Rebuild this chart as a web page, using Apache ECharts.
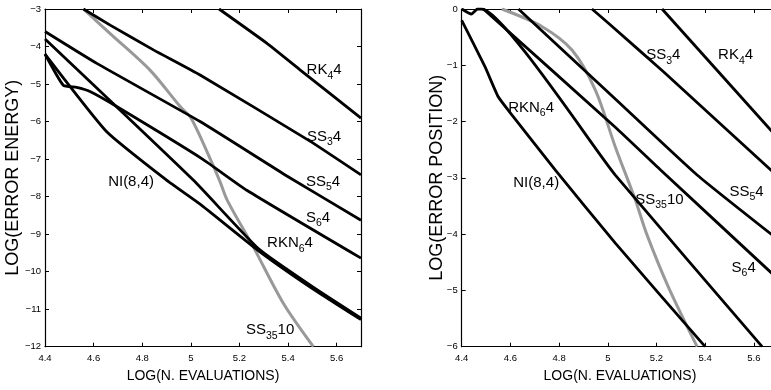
<!DOCTYPE html>
<html><head><meta charset="utf-8">
<script src="https://cdn.jsdelivr.net/npm/echarts@6/dist/echarts.min.js"></script>
<style>html,body{margin:0;padding:0;background:#fff}#c{width:771px;height:390px}</style>
</head><body><div id="c"></div>
<script>
// ---- axes ----
const xMin = 4.4, xMax = 5.7, xStep = 0.2;
const energyYMin = -12, energyYMax = -3;
const posYMin = -6, posYMax = 0;
const xAxisTitle = 'LOG(N. EVALUATIONS)';
const energyTitle = 'LOG(ERROR ENERGY)';
const posTitle = 'LOG(ERROR POSITION)';

// ---- left panel: log(error energy) ----
const energyRK4  = [[5.116,-3],[5.312,-3.91],[5.449,-4.62],[5.7,-5.91]];
const energySS3  = [[4.558,-3],[4.668,-3.43],[4.846,-4.09],[5.038,-4.76],[5.49,-6.52],[5.7,-7.42]];
const energySS5  = [[4.4,-3.6],[4.613,-4.45],[5.038,-6.0],[5.395,-7.45],[5.7,-8.63]];
const energyS6   = [[4.4,-4.2],[4.475,-5.03],[4.53,-5.09],[4.585,-5.2],[4.695,-5.6],[5.048,-7.0],[5.23,-7.83],[5.7,-9.64]];
const energyRKN6 = [[4.4,-3.8],[5.01,-7.56],[5.28,-9.4],[5.5,-10.4],[5.7,-11.24]];
const energyNI   = [[4.4,-4.2],[4.654,-6.27],[4.9,-7.56],[5.038,-8.2],[5.28,-9.45],[5.5,-10.45],[5.7,-11.28]];
const energySS35 = [[4.558,-3],[4.667,-3.65],[4.832,-4.63],[4.956,-5.6],[5.0,-5.9],[5.08,-7.0],[5.12,-7.6],[5.15,-8.1],[5.257,-9.34],[5.381,-10.85],[5.504,-12]];

// ---- right panel: log(error position) ----
const posRK4  = [[5.223,0],[5.7,-2.3]];
const posSS3  = [[4.935,0],[5.01,-0.28],[5.23,-1.12],[5.7,-2.98]];
const posSS5  = [[4.633,0],[5.031,-1.6],[5.367,-2.95],[5.7,-4.1]];
const posS6   = [[4.489,0],[5.031,-2.1],[5.217,-2.86],[5.7,-4.8]];
const posRKN6 = [[4.4,0],[4.44,-0.09],[4.465,0],[4.482,0],[5.031,-2.95],[5.634,-6]];
const posNI   = [[4.4,-0.2],[4.496,-1.03],[4.55,-1.56],[4.606,-1.88],[4.784,-2.86],[5.031,-4.16],[5.40,-6]];
const posSS35 = [[4.565,0],[4.729,-0.31],[4.853,-0.73],[4.949,-1.44],[5.031,-2.45],[5.113,-3.39],[5.16,-4.0],[5.25,-4.95],[5.367,-6]];

// ---- curve labels: [panel, x, y, main, sub, tail] ----
const curveLabels = [
  [0, 5.548, -4.63, 'RK', '4', '4'],
  [0, 5.548, -6.41, 'SS', '3', '4'],
  [0, 5.544, -7.61, 'SS', '5', '4'],
  [0, 4.754, -7.61, 'NI(8,4)', '', ''],
  [0, 5.523, -8.57, 'S', '6', '4'],
  [0, 5.408, -9.24, 'RKN', '6', '4'],
  [0, 5.326, -11.56, 'SS', '35', '10'],
  [1, 5.228, -0.82, 'SS', '3', '4'],
  [1, 5.525, -0.82, 'RK', '4', '4'],
  [1, 4.685, -1.76, 'RKN', '6', '4'],
  [1, 4.706, -3.09, 'NI(8,4)', '', ''],
  [1, 5.212, -3.39, 'SS', '35', '10'],
  [1, 5.570, -3.25, 'SS', '5', '4'],
  [1, 5.558, -4.60, 'S', '6', '4']
];

const FONT = "'Liberation Sans', Arial, sans-serif";
const chart = echarts.init(document.getElementById('c'), null, {renderer: 'canvas'});

function xAxes(g) {
  const base = {gridIndex: g, type: 'value', min: xMin, max: xMax, interval: xStep,
    splitLine: {show: false},
    axisLine: {onZero: false, lineStyle: {color: '#000', width: 1.2}},
    axisTick: {inside: true, length: 4, lineStyle: {color: '#000', width: 1}}};
  return [
    Object.assign({}, base, {position: 'bottom',
      axisLabel: {color: '#000', fontSize: 9.5, fontFamily: FONT, margin: 7,
        showMaxLabel: false,
        formatter: v => String(+v.toFixed(1))},
      name: xAxisTitle, nameLocation: 'middle', nameGap: 22,
      nameTextStyle: {color: '#000', fontSize: 14, fontFamily: FONT}}),
    Object.assign({}, base, {position: 'top', axisLabel: {show: false}})
  ];
}
function yAxes(g, mn, mx, title, gap) {
  const base = {gridIndex: g, type: 'value', min: mn, max: mx, interval: 1,
    splitLine: {show: false},
    axisLine: {onZero: false, lineStyle: {color: '#000', width: 1.2}},
    axisTick: {inside: true, length: 4, lineStyle: {color: '#000', width: 1}}};
  return [
    Object.assign({}, base, {position: 'left',
      axisLabel: {color: '#000', fontSize: 9.5, fontFamily: FONT, margin: 4,
        formatter: v => (v < 0 ? '\u2212' : '') + Math.abs(v)},
      name: title, nameLocation: 'middle', nameGap: gap, nameMoveOverlap: false,
      nameTextStyle: {color: '#000', fontSize: 18, fontFamily: FONT}}),
    Object.assign({}, base, {position: 'right', axisLabel: {show: false}})
  ];
}

function line(g, data, gray) {
  return {type: 'line', xAxisIndex: g * 2, yAxisIndex: g * 2, data: data,
    symbol: 'none', silent: true, animation: false, clip: true,
    smooth: gray ? 0.3 : 0.15,
    lineStyle: {color: gray ? '#999999' : '#000', width: gray ? 3 : 2.8},
    z: gray ? 2 : 3};
}

chart.setOption({
  animation: false,
  backgroundColor: '#fff',
  grid: [
    {left: 45, top: 9, width: 316, height: 337.7, outerBoundsMode: 'none', containLabel: false},
    {left: 461.7, top: 9, width: 316.5, height: 337.7, outerBoundsMode: 'none', containLabel: false}
  ],
  xAxis: [...xAxes(0), ...xAxes(1)],
  yAxis: [...yAxes(0, energyYMin, energyYMax, energyTitle, 23), ...yAxes(1, posYMin, posYMax, posTitle, 16)],
  series: [
    line(0, energySS35, true), line(0, energyRK4), line(0, energySS3), line(0, energySS5),
    line(0, energyS6), line(0, energyRKN6), line(0, energyNI),
    line(1, posSS35, true), line(1, posRK4), line(1, posSS3), line(1, posSS5),
    line(1, posS6), line(1, posRKN6), line(1, posNI)
  ]
});

const rich = {
  m: {fontSize: 15, fontFamily: FONT, color: '#000'},
  s: {fontSize: 10.5, fontFamily: FONT, color: '#000', padding: [11, 0, 0, 0]}
};
const graphics = curveLabels.map(([g, x, y, main, sub, tail]) => {
  const p = chart.convertToPixel({xAxisIndex: g * 2, yAxisIndex: g * 2}, [x, y]);
  let txt = '{m|' + main + '}';
  if (sub) txt += '{s|' + sub + '}{m|' + tail + '}';
  return {type: 'text', x: p[0], y: p[1], z: 10,
    style: {text: txt, rich: rich, align: 'center', verticalAlign: 'middle',
      fontSize: 15, fontFamily: FONT, fill: '#000'}};
});
chart.setOption({graphic: graphics});
</script></body></html>
